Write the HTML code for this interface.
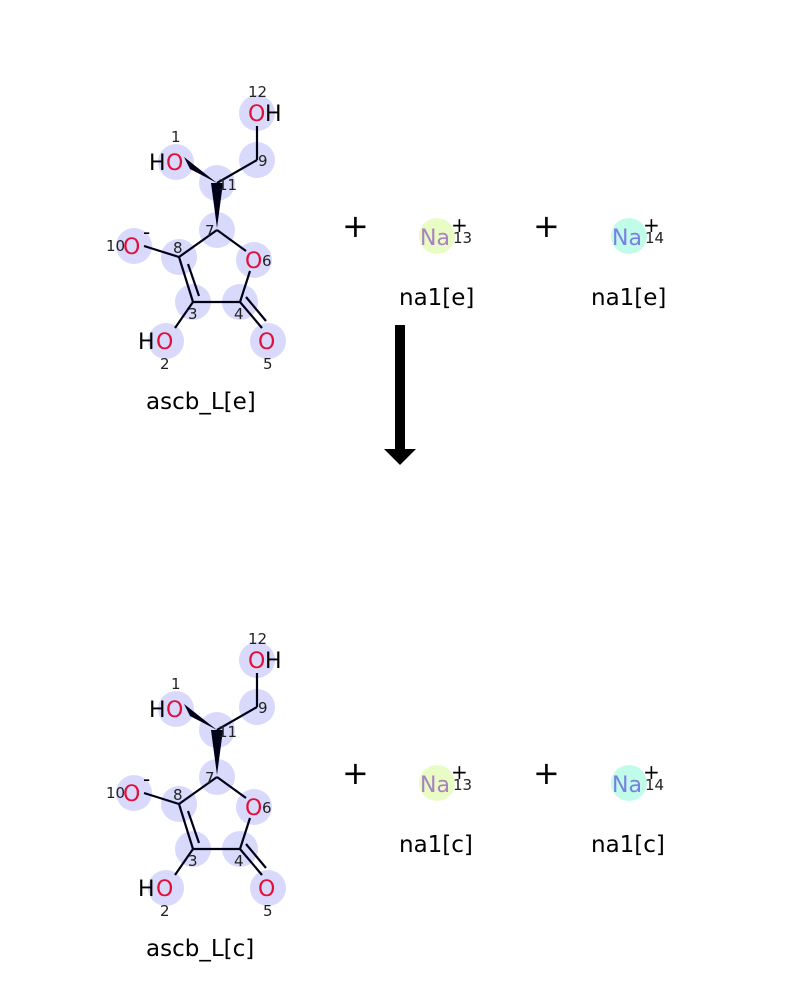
<!DOCTYPE html>
<html><head><style>
html,body{margin:0;padding:0;background:#fff;}
svg text{font-family:"DejaVu Sans","Liberation Sans",sans-serif;}
</style></head><body>
<svg width="800" height="1000" xmlns="http://www.w3.org/2000/svg">
<defs>
<g id="mol">
  <g fill="#d9d9fb">
    <circle cx="257" cy="113" r="18"/>
    <circle cx="257" cy="160" r="18"/>
    <circle cx="176" cy="162" r="18"/>
    <circle cx="217" cy="183" r="18"/>
    <circle cx="217" cy="230" r="18"/>
    <circle cx="134" cy="246" r="18"/>
    <circle cx="179" cy="257" r="18"/>
    <circle cx="254" cy="260" r="18"/>
    <circle cx="193" cy="302" r="18"/>
    <circle cx="240" cy="302" r="18"/>
    <circle cx="166" cy="341" r="18"/>
    <circle cx="268" cy="341" r="18"/>
  </g>
  <g stroke="#000018" stroke-width="2.2" fill="none">
    <line x1="257" y1="126" x2="257" y2="160"/>
    <line x1="257" y1="160" x2="217" y2="183"/>
    <line x1="217" y1="230" x2="179" y2="257"/>
    <line x1="217" y1="230" x2="246" y2="251"/>
    <line x1="179" y1="257" x2="193" y2="302"/>
    <line x1="188" y1="264" x2="199" y2="296"/>
    <line x1="193" y1="302" x2="240" y2="302"/>
    <line x1="240" y1="302" x2="250" y2="271"/>
    <line x1="240" y1="302" x2="262" y2="328"/>
    <line x1="246" y1="297" x2="266" y2="321"/>
    <line x1="179" y1="257" x2="144" y2="246"/>
    <line x1="193" y1="302" x2="175" y2="328"/>
  </g>
  <polygon points="217,183 184,157 190,169" fill="#000018"/>
  <polygon points="211,183 223,183 217,228" fill="#000018"/>
  <g font-size="22">
    <text x="248" y="121" fill="#e0103a">O</text><text x="265" y="121" fill="#000">H</text>
    <text x="149" y="170" fill="#000">H</text><text x="166" y="170" fill="#e0103a">O</text>
    <text x="123" y="254" fill="#e0103a">O</text>
    <text x="245" y="268" fill="#e0103a">O</text>
    <text x="138" y="349" fill="#000">H</text><text x="156" y="349" fill="#e0103a">O</text>
    <text x="258" y="349" fill="#e0103a">O</text>
  </g>
  <text x="143" y="239" font-size="20" fill="#000">-</text>
  <g font-size="15" fill="#222">
    <text x="248" y="97">12</text>
    <text x="171" y="142">1</text>
    <text x="258" y="166">9</text>
    <text x="218" y="190">11</text>
    <text x="205" y="236">7</text>
    <text x="106" y="251">10</text>
    <text x="173" y="253">8</text>
    <text x="262" y="266">6</text>
    <text x="188" y="319">3</text>
    <text x="234" y="319">4</text>
    <text x="160" y="369">2</text>
    <text x="263" y="369">5</text>
  </g>
</g>
<g id="rest">
  <text x="342" y="237" font-size="32" fill="#000">+</text>
  <text x="533" y="237" font-size="32" fill="#000">+</text>
  <circle cx="437" cy="236" r="18" fill="#e9fcc5"/>
  <circle cx="629" cy="236" r="18" fill="#c1fbea"/>
  <text x="420" y="245" font-size="22" fill="#a883c0">Na</text>
  <text x="612" y="245" font-size="22" fill="#7a7fe0">Na</text>
  <text x="451" y="232" font-size="20" fill="#000">+</text>
  <text x="643" y="232" font-size="20" fill="#000">+</text>
  <text x="453" y="243" font-size="15" fill="#222">13</text>
  <text x="645" y="243" font-size="15" fill="#222">14</text>
</g>
</defs>
<use href="#mol"/>
<use href="#rest"/>
<text x="146" y="409" font-size="23" fill="#000">ascb_L[e]</text>
<text x="399" y="305" font-size="23" fill="#000">na1[e]</text>
<text x="591" y="305" font-size="23" fill="#000">na1[e]</text>
<rect x="395" y="325" width="10" height="126" fill="#000"/>
<polygon points="384,449 416,449 400,465" fill="#000"/>
<g transform="translate(0,547)">
  <use href="#mol"/>
  <use href="#rest"/>
  <text x="146" y="409" font-size="23" fill="#000">ascb_L[c]</text>
  <text x="399" y="305" font-size="23" fill="#000">na1[c]</text>
  <text x="591" y="305" font-size="23" fill="#000">na1[c]</text>
</g>
</svg>
</body></html>
